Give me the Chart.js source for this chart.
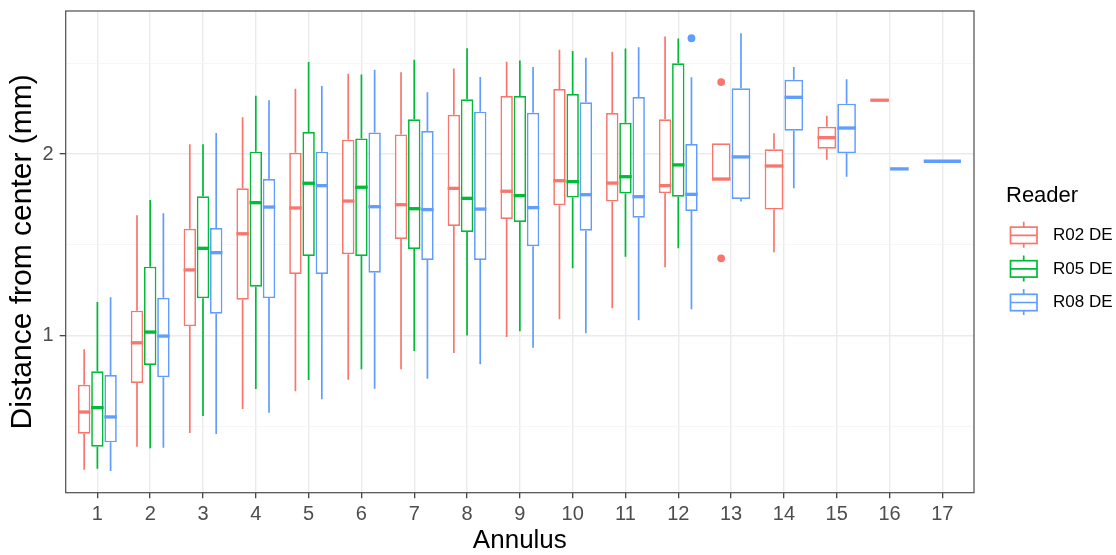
<!DOCTYPE html>
<html>
<head>
<meta charset="utf-8">
<title>Distance from center by annulus</title>
<script src="https://cdn.jsdelivr.net/npm/chart.js@4.4.1/dist/chart.umd.min.js"></script>
<style>
  html, body { margin: 0; padding: 0; background: #fff; }
  #wrap { width: 1116px; height: 555px; position: relative; }
</style>
</head>
<body>
<div id="wrap"><canvas id="chart"></canvas></div>
<script>
// Categories
const annulus = [1, 2, 3, 4, 5, 6, 7, 8, 9, 10, 11, 12, 13, 14, 15, 16, 17];
const readers = ['R02 DE', 'R05 DE', 'R08 DE'];
const readerColors = ['#F8766D', '#00BA38', '#619CFF'];

// Box stats per annulus: [lower whisker, Q1, median, Q3, upper whisker], null = no data
const r02Stats = [
    [0.262, 0.461, 0.580, 0.730, 0.925],
    [0.389, 0.740, 0.961, 1.138, 1.663],
    [0.464, 1.053, 1.362, 1.589, 2.053],
    [0.597, 1.198, 1.561, 1.811, 2.202],
    [0.694, 1.340, 1.703, 2.007, 2.359],
    [0.758, 1.448, 1.741, 2.079, 2.442],
    [0.815, 1.532, 1.721, 2.108, 2.450],
    [0.905, 1.604, 1.811, 2.216, 2.470],
    [0.993, 1.642, 1.795, 2.319, 2.508],
    [1.090, 1.718, 1.853, 2.358, 2.574],
    [1.151, 1.738, 1.840, 2.226, 2.563],
    [1.377, 1.784, 1.826, 2.191, 2.646],
    [1.860, 1.860, 1.862, 2.059, 2.059],
    [1.459, 1.694, 1.934, 2.026, 2.114],
    [1.969, 2.029, 2.090, 2.150, 2.211],
    [2.296, 2.296, 2.296, 2.296, 2.296],
    null
];
const r05Stats = [
    [0.268, 0.389, 0.604, 0.804, 1.185],
    [0.380, 0.839, 1.020, 1.380, 1.747],
    [0.558, 1.206, 1.481, 1.767, 2.053],
    [0.707, 1.270, 1.732, 2.013, 2.321],
    [0.756, 1.439, 1.839, 2.121, 2.506],
    [0.815, 1.439, 1.817, 2.086, 2.437],
    [0.916, 1.477, 1.699, 2.191, 2.519],
    [1.001, 1.571, 1.756, 2.301, 2.582],
    [1.025, 1.626, 1.771, 2.319, 2.514],
    [1.371, 1.760, 1.848, 2.330, 2.567],
    [1.435, 1.782, 1.875, 2.172, 2.580],
    [1.481, 1.765, 1.940, 2.499, 2.635],
    null, null, null, null, null
];
const r08Stats = [
    [0.255, 0.413, 0.553, 0.784, 1.211],
    [0.384, 0.771, 0.998, 1.209, 1.674],
    [0.459, 1.121, 1.457, 1.593, 2.116],
    [0.576, 1.207, 1.708, 1.862, 2.296],
    [0.650, 1.340, 1.826, 2.013, 2.374],
    [0.708, 1.347, 1.710, 2.119, 2.464],
    [0.763, 1.417, 1.694, 2.127, 2.340],
    [0.843, 1.417, 1.697, 2.233, 2.424],
    [0.934, 1.492, 1.705, 2.227, 2.479],
    [1.013, 1.578, 1.776, 2.285, 2.530],
    [1.085, 1.649, 1.765, 2.314, 2.587],
    [1.145, 1.686, 1.778, 2.055, 2.422],
    [1.738, 1.752, 1.984, 2.362, 2.664],
    [1.811, 2.128, 2.312, 2.409, 2.479],
    [1.875, 2.004, 2.143, 2.277, 2.411],
    [1.918, 1.918, 1.918, 1.918, 1.918],
    [1.960, 1.960, 1.960, 1.960, 1.960]
];

// Outliers: [annulus, value]
const r02Outliers = [[13, 2.396], [13, 1.426]];
const r05Outliers = [];
const r08Outliers = [[12, 2.637]];

// Axis ticks
const yTicks = [0.5, 1, 1.5, 2, 2.5];
const yTickLabels = ['', '1', '', '2', ''];

const statsByReader = [r02Stats, r05Stats, r08Stats];
const outliersByReader = [r02Outliers, r05Outliers, r08Outliers];

const FONT = '"Liberation Sans", Arial, sans-serif';
const isMajor = c => c.tick && (c.tick.value === 1 || c.tick.value === 2);

// Whiskers go under the boxes, medians and outliers on top
const boxplotPlugin = {
    id: 'boxplotParts',
    beforeDatasetsDraw(chart) {
        const ctx = chart.ctx;
        const y = chart.scales.y;
        ctx.save();
        ctx.lineWidth = 1.7;
        ctx.lineCap = 'butt';
        statsByReader.forEach((stats, k) => {
            const meta = chart.getDatasetMeta(k);
            ctx.strokeStyle = readerColors[k];
            meta.data.forEach((bar, i) => {
                const s = stats[i];
                if (!s) return;
                ctx.beginPath();
                ctx.moveTo(bar.x, y.getPixelForValue(s[4]));
                ctx.lineTo(bar.x, y.getPixelForValue(s[3]));
                ctx.moveTo(bar.x, y.getPixelForValue(s[1]));
                ctx.lineTo(bar.x, y.getPixelForValue(s[0]));
                ctx.stroke();
            });
        });
        ctx.restore();
    },
    afterDatasetsDraw(chart) {
        const ctx = chart.ctx;
        const y = chart.scales.y;
        ctx.save();
        statsByReader.forEach((stats, k) => {
            const meta = chart.getDatasetMeta(k);
            ctx.strokeStyle = readerColors[k];
            ctx.fillStyle = readerColors[k];
            ctx.lineWidth = 3.3;
            meta.data.forEach((bar, i) => {
                const s = stats[i];
                if (!s) return;
                const py = y.getPixelForValue(s[2]);
                ctx.beginPath();
                ctx.moveTo(bar.x - bar.width / 2, py);
                ctx.lineTo(bar.x + bar.width / 2, py);
                ctx.stroke();
            });
            outliersByReader[k].forEach(([a, v]) => {
                const bar = meta.data[annulus.indexOf(a)];
                ctx.beginPath();
                ctx.arc(bar.x, y.getPixelForValue(v), 3.9, 0, Math.PI * 2);
                ctx.fill();
            });
        });
        ctx.restore();
    },
    afterDraw(chart) {
        const ctx = chart.ctx;
        const area = chart.chartArea;
        ctx.save();
        // panel border
        ctx.strokeStyle = '#4d4d4d';
        ctx.lineWidth = 1.2;
        ctx.strokeRect(area.left, area.top, area.right - area.left, area.bottom - area.top);

        // legend
        const lx = area.right + 33;
        ctx.fillStyle = '#000';
        ctx.textBaseline = 'middle';
        ctx.textAlign = 'left';
        ctx.font = '22px ' + FONT;
        ctx.fillText('Reader', lx - 1, 196);
        ctx.font = '17px ' + FONT;
        readers.forEach((name, k) => {
            const cy = 235.3 + k * 33.6;
            const cx = lx + 16.7;
            ctx.strokeStyle = readerColors[k];
            ctx.lineWidth = 1.7;
            ctx.beginPath();
            ctx.moveTo(cx, cy - 13.5);
            ctx.lineTo(cx, cy - 8.2);
            ctx.moveTo(cx, cy + 8.2);
            ctx.lineTo(cx, cy + 12.5);
            ctx.moveTo(lx + 3.5, cy);
            ctx.lineTo(lx + 30, cy);
            ctx.stroke();
            ctx.strokeRect(lx + 3.5, cy - 8.2, 26.5, 16.4);
            ctx.fillStyle = '#000';
            ctx.fillText(name, lx + 46, cy);
        });
        ctx.restore();
    }
};

const ctx = document.getElementById('chart').getContext('2d');
const chart = new Chart(ctx, {
    type: 'bar',
    data: {
        datasets: readers.map((name, k) => ({
            label: name,
            data: annulus.map((a, i) => {
                const s = statsByReader[k][i];
                return { x: a, y: s ? [s[1], s[3]] : null };
            }),
            backgroundColor: '#ffffff',
            borderColor: readerColors[k],
            borderWidth: 1.7,
            borderSkipped: false,
            categoryPercentage: 0.75,
            barPercentage: 0.94,
            skipNull: true
        }))
    },
    options: {
        responsive: true,
        maintainAspectRatio: false,
        animation: false,
        layout: { padding: { left: 0, top: 11, right: 142, bottom: 0 } },
        plugins: {
            legend: { display: false },
            tooltip: { enabled: false }
        },
        scales: {
            x: {
                type: 'linear',
                offset: false,
                min: 0.4,
                max: 17.6,
                afterBuildTicks: scale => { scale.ticks = annulus.map(v => ({ value: v })); },
                afterFit: scale => {
                    scale.height = 62.3;
                    scale.paddingLeft = 0;
                    scale.paddingRight = 0;
                },
                ticks: {
                    color: '#4d4d4d',
                    font: { family: FONT, size: 20 },
                    padding: 4,
                    maxRotation: 0,
                    autoSkip: false,
                    callback: v => String(v)
                },
                grid: {
                    color: '#ebebeb',
                    lineWidth: 1.4,
                    offset: false,
                    drawTicks: true,
                    tickLength: 5.5,
                    tickColor: '#333333',
                    tickWidth: 1.2
                },
                border: { display: false },
                title: {
                    display: true,
                    text: 'Annulus',
                    color: '#000',
                    font: { family: FONT, size: 26, lineHeight: 1.1 },
                    padding: { top: 0, bottom: 0 }
                }
            },
            y: {
                type: 'linear',
                min: 0.136,
                max: 2.787,
                afterBuildTicks: scale => { scale.ticks = yTicks.map(v => ({ value: v })); },
                afterFit: scale => {
                    scale.width = 65.7;
                    scale.paddingTop = 0;
                    scale.paddingBottom = 0;
                },
                ticks: {
                    color: '#4d4d4d',
                    font: { family: FONT, size: 20 },
                    padding: 6,
                    autoSkip: false,
                    callback: v => yTickLabels[yTicks.indexOf(v)]
                },
                grid: {
                    color: c => isMajor(c) ? '#ebebeb' : '#f4f4f4',
                    lineWidth: c => isMajor(c) ? 1.4 : 0.8,
                    drawTicks: true,
                    tickLength: 6,
                    tickColor: c => isMajor(c) ? '#333333' : 'rgba(0,0,0,0)',
                    tickWidth: 1.2
                },
                border: { display: false },
                title: {
                    display: true,
                    text: 'Distance from center (mm)',
                    color: '#000',
                    font: { family: FONT, size: 30, lineHeight: 1.2 },
                    padding: { top: 4.5, bottom: 0 }
                }
            }
        }
    },
    plugins: [boxplotPlugin]
});
</script>
</body>
</html>
